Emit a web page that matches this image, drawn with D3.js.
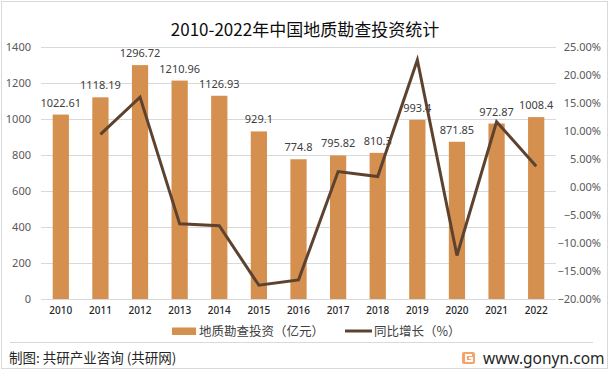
<!DOCTYPE html>
<html>
<head>
<meta charset="utf-8">
<script src="https://cdn.jsdelivr.net/npm/d3@7"></script>
<style>
  body { margin: 0; background: #fff; }
  text { font-family: "Noto Sans", "Noto Sans CJK SC", sans-serif; }
  .cjk { font-family: "Noto Sans CJK SC", sans-serif; }
</style>
</head>
<body>
<svg id="chart" width="613" height="370"></svg>
<script>
const years = ['2010', '2011', '2012', '2013', '2014', '2015', '2016', '2017', '2018', '2019', '2020', '2021', '2022'];
const investment = [1022.61, 1118.19, 1296.72, 1210.96, 1126.93, 929.1, 774.8, 795.82, 810.3, 993.4, 871.85, 972.87, 1008.4];
// growth rate in %, 2010 has none
const growth = [null, 9.35, 15.97, -6.61, -6.94, -17.55, -16.61, 2.71, 1.82, 22.6, -12.24, 11.59, 3.65];
const leftTicks = [0, 200, 400, 600, 800, 1000, 1200, 1400];
const rightTicks = [-20, -15, -10, -5, 0, 5, 10, 15, 20, 25];

const svg = d3.select('#chart');
const width = +svg.attr('width');
const height = +svg.attr('height');

const barColor = '#d58f4e';
const lineColor = '#5e4230';

// frame
svg.append('rect')
  .attr('x', 1.5).attr('y', 1.5)
  .attr('width', 606).attr('height', height - 3)
  .attr('fill', '#fff')
  .attr('stroke', '#d9d9d9');

const plot = { left: 41, right: 556, top: 46.5, bottom: 299 };

const x = d3.scaleBand()
  .domain(years)
  .range([plot.left, plot.right])
  .paddingInner(0.59)
  .paddingOuter(0.295);

const yLeft = d3.scaleLinear()
  .domain([0, 1400])
  .range([plot.bottom, plot.top]);

const yRight = d3.scaleLinear()
  .domain([-20, 25])
  .range([plot.bottom, plot.top]);

// gridlines
svg.append('g')
  .selectAll('line')
  .data(leftTicks)
  .enter()
    .append('line')
    .attr('x1', plot.left)
    .attr('x2', plot.right)
    .attr('y1', (d) => Math.round(yLeft(d)) + 0.5)
    .attr('y2', (d) => Math.round(yLeft(d)) + 0.5)
    .attr('stroke', '#d9d9d9');

// left axis
const leftAxis = svg.append('g')
  .attr('transform', `translate(${plot.left - 10},0)`)
  .call(d3.axisLeft(yLeft).tickValues(leftTicks).tickSize(0).tickPadding(0)
    .tickFormat(d3.format('d')));
leftAxis.select('.domain').remove();
leftAxis.selectAll('text')
  .attr('fill', '#595959')
  .style('font-size', '11px');

// right axis
const rightAxis = svg.append('g')
  .attr('transform', `translate(${plot.right + 45},0)`)
  .call(d3.axisLeft(yRight).tickValues(rightTicks).tickSize(0).tickPadding(0)
    .tickFormat((d) => d3.format('.2f')(d) + '%'));
rightAxis.select('.domain').remove();
rightAxis.selectAll('text')
  .attr('fill', '#595959')
  .style('font-size', '11px');

// bottom axis
const bottomAxis = svg.append('g')
  .attr('transform', `translate(0,${plot.bottom})`)
  .call(d3.axisBottom(x).tickSize(0).tickPadding(8));
bottomAxis.select('.domain').remove();
bottomAxis.selectAll('text')
  .attr('fill', '#262626')
  .style('font-size', '10px')
  .style('font-weight', '500');

// bars
svg.append('g')
  .selectAll('rect')
  .data(investment)
  .enter()
    .append('rect')
    .attr('x', (d, i) => x(years[i]))
    .attr('y', (d) => yLeft(d))
    .attr('width', x.bandwidth())
    .attr('height', (d) => plot.bottom - yLeft(d))
    .attr('fill', barColor);

// bar labels
svg.append('g')
  .selectAll('text')
  .data(investment)
  .enter()
    .append('text')
    .attr('x', (d, i) => x(years[i]) + x.bandwidth() / 2)
    .attr('y', (d) => yLeft(d) - 8)
    .attr('text-anchor', 'middle')
    .attr('fill', '#404040')
    .style('font-size', '11px')
    .text((d) => d);

// growth line
const line = d3.line()
  .defined((d) => d !== null)
  .x((d, i) => x(years[i]) + x.bandwidth() / 2)
  .y((d) => yRight(d));

svg.append('path')
  .datum(growth)
  .attr('d', line)
  .attr('fill', 'none')
  .attr('stroke', lineColor)
  .attr('stroke-width', 3)
  .attr('stroke-linejoin', 'miter');

// title
svg.append('text')
  .attr('class', 'cjk')
  .attr('x', 305)
  .attr('y', 36)
  .attr('text-anchor', 'middle')
  .attr('fill', '#0d0d0d')
  .style('font-size', '17px')
  .text('2010-2022年中国地质勘查投资统计');

// legend
const legend = svg.append('g').attr('class', 'cjk');
legend.append('rect')
  .attr('x', 172).attr('y', 327.5)
  .attr('width', 24).attr('height', 7.5)
  .attr('fill', barColor);
legend.append('text')
  .attr('class', 'cjk')
  .attr('x', 199).attr('y', 336)
  .attr('fill', '#404040')
  .style('font-size', '12.5px')
  .text('地质勘查投资（亿元）');
legend.append('line')
  .attr('x1', 345).attr('x2', 372)
  .attr('y1', 331).attr('y2', 331)
  .attr('stroke', lineColor)
  .attr('stroke-width', 3);
legend.append('text')
  .attr('class', 'cjk')
  .attr('x', 374).attr('y', 336)
  .attr('fill', '#404040')
  .style('font-size', '12.5px')
  .text('同比增长（%）');

// footer
svg.append('line')
  .attr('x1', 10).attr('x2', 593)
  .attr('y1', 342.5).attr('y2', 342.5)
  .attr('stroke', '#d9d9d9');

svg.append('text')
  .attr('class', 'cjk')
  .attr('x', 9).attr('y', 363)
  .attr('fill', '#262626')
  .style('font-size', '13.5px')
  .text('制图: 共研产业咨询 (共研网)');

const logo = svg.append('g').attr('transform', 'translate(462,352)');
logo.append('rect')
  .attr('width', 13).attr('height', 12).attr('rx', 2)
  .attr('fill', '#f5a36a');
logo.append('path')
  .attr('d', 'M10 3 H4 V9 H10 V6 H7')
  .attr('fill', 'none')
  .attr('stroke', '#fff')
  .attr('stroke-width', 1.8);

svg.append('text')
  .attr('x', 483).attr('y', 364)
  .attr('fill', '#262626')
  .style('font-size', '15.5px')
  .text('www.gonyn.com');
</script>
</body>
</html>
